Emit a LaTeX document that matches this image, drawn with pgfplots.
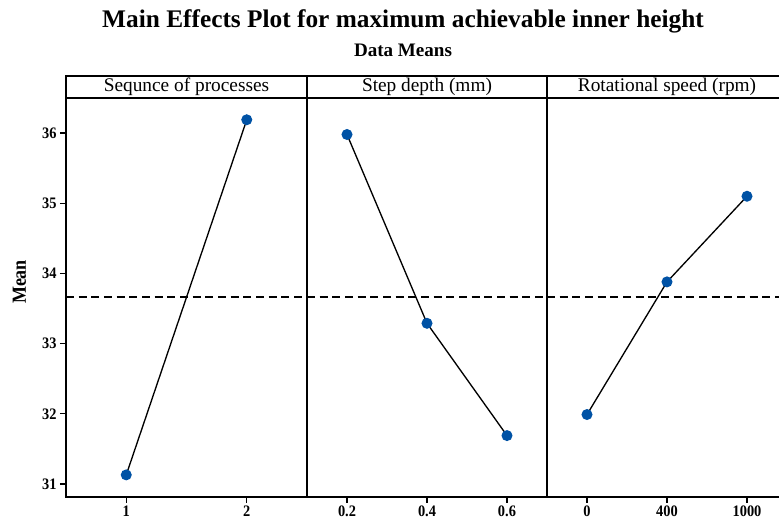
\documentclass[border=0pt]{standalone}
\usepackage{fontspec}
\setmainfont{Liberation Serif}
\newfontfamily\condserif[FakeStretch=0.9]{Liberation Serif}
\usepackage{pgfplots}
\pgfplotsset{compat=1.18}
\definecolor{markblue}{RGB}{0,82,165}

% 1 px of the reference = 0.75pt
\pgfplotsset{
  mainfx/.style={
    scale only axis,
    height=299.25pt,
    ymin=30.815, ymax=36.5,
    axis line style={line width=1.1pt},
    tick style={line width=1pt, black},
    major tick length=4.5pt,
    tick align=outside,
    xtick pos=bottom,
    ytick pos=left,
    xtick={1,2,3},
    ytick={31,32,33,34,35,36},
    /pgf/number format/assume math mode=true,
    ticklabel style={font=\condserif\bfseries\fontsize{12}{12}\selectfont},
    xticklabel style={yshift=0pt, inner ysep=2pt},
    yticklabel style={xshift=1pt},
    clip=false,
  },
  fx/.style={black, line width=1pt, mark=*, mark size=3.6pt,
    mark options={markblue, fill=markblue}},
  grand/.style={black, line width=1.3pt, dash pattern=on 6pt off 3.5pt},
}
\tikzset{
  strip/.style={draw, line width=1.1pt, anchor=south, inner sep=0pt,
    outer sep=0pt, minimum height=16.5pt, font=\fontsize{14.5}{14.5}\selectfont},
}

\begin{document}
\begin{tikzpicture}
% Sequence of processes
\begin{axis}[mainfx, name=ax1, at={(0,0)}, anchor=south west,
  width=180.75pt, xmin=0.5, xmax=2.5,
  xticklabels={1,2}]
\addplot[grand] coordinates {(0.5,33.66) (2.5,33.66)};
\addplot[fx] coordinates {(1,31.13) (2,36.19)};
\end{axis}
% Step depth
\begin{axis}[mainfx, name=ax2, at={(180.75pt,0)}, anchor=south west,
  width=180pt, xmin=0.5, xmax=3.5,
  xticklabels={0.2,0.4,0.6}, ytick=\empty]
\addplot[grand] coordinates {(0.5,33.66) (3.5,33.66)};
\addplot[fx] coordinates {(1,35.98) (2,33.29) (3,31.69)};
\end{axis}
% Rotational speed
\begin{axis}[mainfx, name=ax3, at={(360.75pt,0)}, anchor=south west,
  width=180pt, xmin=0.5, xmax=3.5,
  xticklabels={0,400,1000}, ytick=\empty]
\addplot[grand] coordinates {(0.5,33.66) (3.5,33.66)};
\addplot[fx] coordinates {(1,31.99) (2,33.88) (3,35.10)};
\end{axis}

\node[strip, minimum width=180.75pt] at (ax1.north) {Sequnce of processes};
\node[strip, minimum width=180pt] at (ax2.north) {Step depth (mm)};
\node[strip, minimum width=180pt] at (ax3.north) {Rotational speed (rpm)};

\node[anchor=base, font=\bfseries\fontsize{19}{19}\selectfont]
  at (252.75pt,351.75pt) {Main Effects Plot for maximum achievable inner height};
\node[anchor=base, font=\bfseries\fontsize{14.3}{14.3}\selectfont]
  at (252.75pt,330.2pt) {Data Means};
\node[rotate=90, font=\condserif\bfseries\fontsize{15}{15}\selectfont]
  at (-34.9pt,161.25pt) {Mean};

\pgfresetboundingbox
\path[use as bounding box] (-49.5pt,-18pt) rectangle (534.75pt,372.75pt);
\end{tikzpicture}
\end{document}
